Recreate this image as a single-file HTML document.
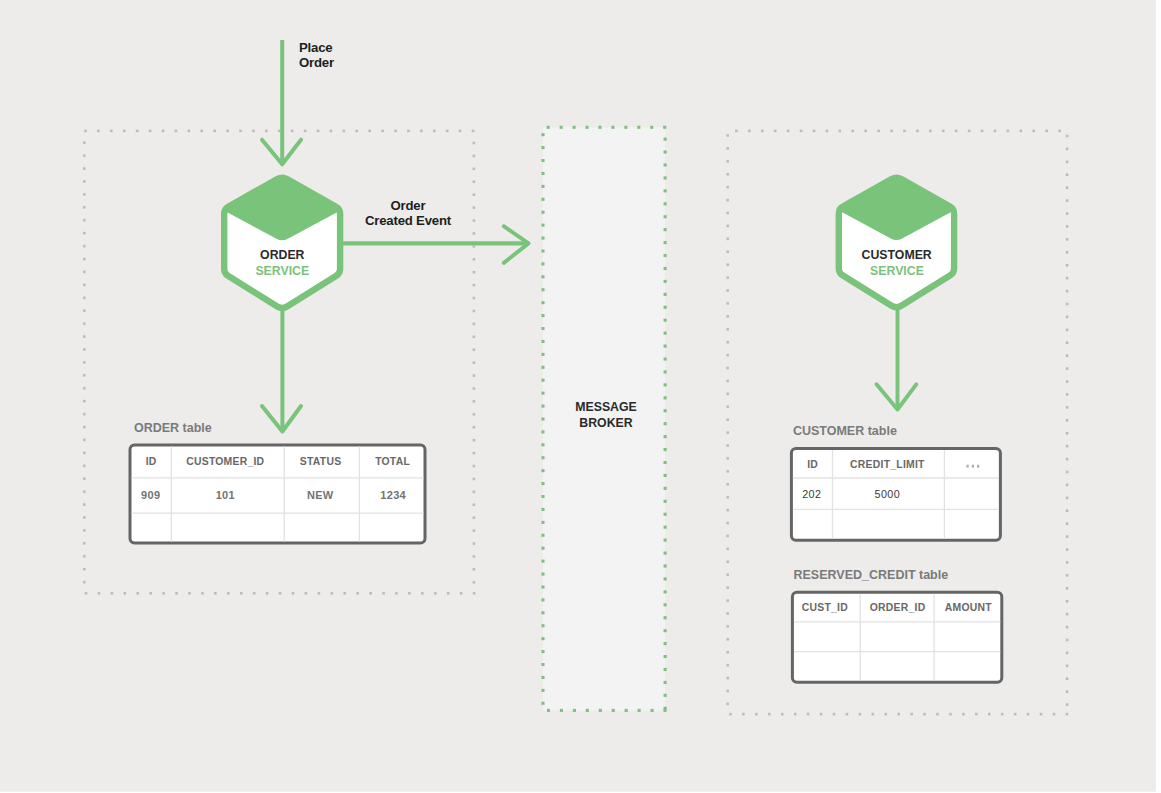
<!DOCTYPE html>
<html><head><meta charset="utf-8"><title>Order Service / Customer Service</title>
<style>
*{margin:0;padding:0}
html,body{width:1161px;height:793px;overflow:hidden;background:#EDECEA}
svg{display:block}
text{font-family:"Liberation Sans",sans-serif}
.lab{font-weight:bold;font-size:13.2px;letter-spacing:-0.2px;fill:#1E1E1E}
.hx{font-weight:bold;font-size:12.3px;fill:#2A2A2A;text-anchor:middle}
.hx.g{fill:#7CC27C}
.th{font-weight:bold;font-size:10.4px;letter-spacing:0.25px;fill:#686868;text-anchor:middle}
.td{font-weight:bold;font-size:11px;letter-spacing:0.3px;fill:#737373;text-anchor:middle}
.td2{font-size:10.8px;letter-spacing:0.4px;fill:#3A3A3A;text-anchor:middle}
.lbl{font-weight:bold;font-size:12.5px;fill:#7A7A7A}
</style></head>
<body><svg width="1161" height="793" viewBox="0 0 1161 793">
<rect width="1161" height="793" fill="#FFFFFF"/>
<rect width="1155.8" height="791.7" fill="#EDECEA"/>
<rect x="543" y="127.3" width="122" height="583" fill="#F3F3F3"/>
<g fill="#BCBCBC"><rect x="84.20" y="129.60" width="2.6" height="2.6"/><rect x="97.12" y="129.60" width="2.6" height="2.6"/><rect x="110.03" y="129.60" width="2.6" height="2.6"/><rect x="122.95" y="129.60" width="2.6" height="2.6"/><rect x="135.87" y="129.60" width="2.6" height="2.6"/><rect x="148.78" y="129.60" width="2.6" height="2.6"/><rect x="161.70" y="129.60" width="2.6" height="2.6"/><rect x="174.62" y="129.60" width="2.6" height="2.6"/><rect x="187.53" y="129.60" width="2.6" height="2.6"/><rect x="200.45" y="129.60" width="2.6" height="2.6"/><rect x="213.37" y="129.60" width="2.6" height="2.6"/><rect x="226.28" y="129.60" width="2.6" height="2.6"/><rect x="239.20" y="129.60" width="2.6" height="2.6"/><rect x="252.12" y="129.60" width="2.6" height="2.6"/><rect x="265.03" y="129.60" width="2.6" height="2.6"/><rect x="277.95" y="129.60" width="2.6" height="2.6"/><rect x="290.87" y="129.60" width="2.6" height="2.6"/><rect x="303.78" y="129.60" width="2.6" height="2.6"/><rect x="316.70" y="129.60" width="2.6" height="2.6"/><rect x="329.62" y="129.60" width="2.6" height="2.6"/><rect x="342.53" y="129.60" width="2.6" height="2.6"/><rect x="355.45" y="129.60" width="2.6" height="2.6"/><rect x="368.37" y="129.60" width="2.6" height="2.6"/><rect x="381.28" y="129.60" width="2.6" height="2.6"/><rect x="394.20" y="129.60" width="2.6" height="2.6"/><rect x="407.12" y="129.60" width="2.6" height="2.6"/><rect x="420.03" y="129.60" width="2.6" height="2.6"/><rect x="432.95" y="129.60" width="2.6" height="2.6"/><rect x="445.87" y="129.60" width="2.6" height="2.6"/><rect x="458.78" y="129.60" width="2.6" height="2.6"/><rect x="471.70" y="129.60" width="2.6" height="2.6"/></g>
<g fill="#BCBCBC"><rect x="83.00" y="141.40" width="2.6" height="2.6"/><rect x="83.00" y="154.32" width="2.6" height="2.6"/><rect x="83.00" y="167.25" width="2.6" height="2.6"/><rect x="83.00" y="180.17" width="2.6" height="2.6"/><rect x="83.00" y="193.09" width="2.6" height="2.6"/><rect x="83.00" y="206.02" width="2.6" height="2.6"/><rect x="83.00" y="218.94" width="2.6" height="2.6"/><rect x="83.00" y="231.86" width="2.6" height="2.6"/><rect x="83.00" y="244.79" width="2.6" height="2.6"/><rect x="83.00" y="257.71" width="2.6" height="2.6"/><rect x="83.00" y="270.64" width="2.6" height="2.6"/><rect x="83.00" y="283.56" width="2.6" height="2.6"/><rect x="83.00" y="296.48" width="2.6" height="2.6"/><rect x="83.00" y="309.41" width="2.6" height="2.6"/><rect x="83.00" y="322.33" width="2.6" height="2.6"/><rect x="83.00" y="335.25" width="2.6" height="2.6"/><rect x="83.00" y="348.18" width="2.6" height="2.6"/><rect x="83.00" y="361.10" width="2.6" height="2.6"/><rect x="83.00" y="374.02" width="2.6" height="2.6"/><rect x="83.00" y="386.95" width="2.6" height="2.6"/><rect x="83.00" y="399.87" width="2.6" height="2.6"/><rect x="83.00" y="412.79" width="2.6" height="2.6"/><rect x="83.00" y="425.72" width="2.6" height="2.6"/><rect x="83.00" y="438.64" width="2.6" height="2.6"/><rect x="83.00" y="451.56" width="2.6" height="2.6"/><rect x="83.00" y="464.49" width="2.6" height="2.6"/><rect x="83.00" y="477.41" width="2.6" height="2.6"/><rect x="83.00" y="490.34" width="2.6" height="2.6"/><rect x="83.00" y="503.26" width="2.6" height="2.6"/><rect x="83.00" y="516.18" width="2.6" height="2.6"/><rect x="83.00" y="529.11" width="2.6" height="2.6"/><rect x="83.00" y="542.03" width="2.6" height="2.6"/><rect x="83.00" y="554.95" width="2.6" height="2.6"/><rect x="83.00" y="567.88" width="2.6" height="2.6"/><rect x="83.00" y="580.80" width="2.6" height="2.6"/></g>
<g fill="#BCBCBC"><rect x="84.70" y="592.00" width="2.6" height="2.6"/><rect x="97.64" y="592.00" width="2.6" height="2.6"/><rect x="110.57" y="592.00" width="2.6" height="2.6"/><rect x="123.51" y="592.00" width="2.6" height="2.6"/><rect x="136.45" y="592.00" width="2.6" height="2.6"/><rect x="149.38" y="592.00" width="2.6" height="2.6"/><rect x="162.32" y="592.00" width="2.6" height="2.6"/><rect x="175.26" y="592.00" width="2.6" height="2.6"/><rect x="188.19" y="592.00" width="2.6" height="2.6"/><rect x="201.13" y="592.00" width="2.6" height="2.6"/><rect x="214.07" y="592.00" width="2.6" height="2.6"/><rect x="227.00" y="592.00" width="2.6" height="2.6"/><rect x="239.94" y="592.00" width="2.6" height="2.6"/><rect x="252.88" y="592.00" width="2.6" height="2.6"/><rect x="265.81" y="592.00" width="2.6" height="2.6"/><rect x="278.75" y="592.00" width="2.6" height="2.6"/><rect x="291.69" y="592.00" width="2.6" height="2.6"/><rect x="304.62" y="592.00" width="2.6" height="2.6"/><rect x="317.56" y="592.00" width="2.6" height="2.6"/><rect x="330.50" y="592.00" width="2.6" height="2.6"/><rect x="343.43" y="592.00" width="2.6" height="2.6"/><rect x="356.37" y="592.00" width="2.6" height="2.6"/><rect x="369.31" y="592.00" width="2.6" height="2.6"/><rect x="382.24" y="592.00" width="2.6" height="2.6"/><rect x="395.18" y="592.00" width="2.6" height="2.6"/><rect x="408.12" y="592.00" width="2.6" height="2.6"/><rect x="421.05" y="592.00" width="2.6" height="2.6"/><rect x="433.99" y="592.00" width="2.6" height="2.6"/><rect x="446.93" y="592.00" width="2.6" height="2.6"/><rect x="459.86" y="592.00" width="2.6" height="2.6"/><rect x="472.80" y="592.00" width="2.6" height="2.6"/></g>
<g fill="#BCBCBC"><rect x="472.60" y="141.70" width="2.6" height="2.6"/><rect x="472.60" y="154.62" width="2.6" height="2.6"/><rect x="472.60" y="167.54" width="2.6" height="2.6"/><rect x="472.60" y="180.46" width="2.6" height="2.6"/><rect x="472.60" y="193.38" width="2.6" height="2.6"/><rect x="472.60" y="206.30" width="2.6" height="2.6"/><rect x="472.60" y="219.22" width="2.6" height="2.6"/><rect x="472.60" y="232.14" width="2.6" height="2.6"/><rect x="472.60" y="245.06" width="2.6" height="2.6"/><rect x="472.60" y="257.99" width="2.6" height="2.6"/><rect x="472.60" y="270.91" width="2.6" height="2.6"/><rect x="472.60" y="283.83" width="2.6" height="2.6"/><rect x="472.60" y="296.75" width="2.6" height="2.6"/><rect x="472.60" y="309.67" width="2.6" height="2.6"/><rect x="472.60" y="322.59" width="2.6" height="2.6"/><rect x="472.60" y="335.51" width="2.6" height="2.6"/><rect x="472.60" y="348.43" width="2.6" height="2.6"/><rect x="472.60" y="361.35" width="2.6" height="2.6"/><rect x="472.60" y="374.27" width="2.6" height="2.6"/><rect x="472.60" y="387.19" width="2.6" height="2.6"/><rect x="472.60" y="400.11" width="2.6" height="2.6"/><rect x="472.60" y="413.03" width="2.6" height="2.6"/><rect x="472.60" y="425.95" width="2.6" height="2.6"/><rect x="472.60" y="438.87" width="2.6" height="2.6"/><rect x="472.60" y="451.79" width="2.6" height="2.6"/><rect x="472.60" y="464.71" width="2.6" height="2.6"/><rect x="472.60" y="477.64" width="2.6" height="2.6"/><rect x="472.60" y="490.56" width="2.6" height="2.6"/><rect x="472.60" y="503.48" width="2.6" height="2.6"/><rect x="472.60" y="516.40" width="2.6" height="2.6"/><rect x="472.60" y="529.32" width="2.6" height="2.6"/><rect x="472.60" y="542.24" width="2.6" height="2.6"/><rect x="472.60" y="555.16" width="2.6" height="2.6"/><rect x="472.60" y="568.08" width="2.6" height="2.6"/><rect x="472.60" y="581.00" width="2.6" height="2.6"/></g>
<g fill="#BCBCBC"><rect x="735.10" y="129.60" width="2.6" height="2.6"/><rect x="748.03" y="129.60" width="2.6" height="2.6"/><rect x="760.96" y="129.60" width="2.6" height="2.6"/><rect x="773.88" y="129.60" width="2.6" height="2.6"/><rect x="786.81" y="129.60" width="2.6" height="2.6"/><rect x="799.74" y="129.60" width="2.6" height="2.6"/><rect x="812.67" y="129.60" width="2.6" height="2.6"/><rect x="825.60" y="129.60" width="2.6" height="2.6"/><rect x="838.52" y="129.60" width="2.6" height="2.6"/><rect x="851.45" y="129.60" width="2.6" height="2.6"/><rect x="864.38" y="129.60" width="2.6" height="2.6"/><rect x="877.31" y="129.60" width="2.6" height="2.6"/><rect x="890.24" y="129.60" width="2.6" height="2.6"/><rect x="903.16" y="129.60" width="2.6" height="2.6"/><rect x="916.09" y="129.60" width="2.6" height="2.6"/><rect x="929.02" y="129.60" width="2.6" height="2.6"/><rect x="941.95" y="129.60" width="2.6" height="2.6"/><rect x="954.88" y="129.60" width="2.6" height="2.6"/><rect x="967.80" y="129.60" width="2.6" height="2.6"/><rect x="980.73" y="129.60" width="2.6" height="2.6"/><rect x="993.66" y="129.60" width="2.6" height="2.6"/><rect x="1006.59" y="129.60" width="2.6" height="2.6"/><rect x="1019.52" y="129.60" width="2.6" height="2.6"/><rect x="1032.44" y="129.60" width="2.6" height="2.6"/><rect x="1045.37" y="129.60" width="2.6" height="2.6"/><rect x="1058.30" y="129.60" width="2.6" height="2.6"/></g>
<g fill="#BCBCBC"><rect x="726.40" y="134.20" width="2.6" height="2.6"/><rect x="726.40" y="147.12" width="2.6" height="2.6"/><rect x="726.40" y="160.04" width="2.6" height="2.6"/><rect x="726.40" y="172.95" width="2.6" height="2.6"/><rect x="726.40" y="185.87" width="2.6" height="2.6"/><rect x="726.40" y="198.79" width="2.6" height="2.6"/><rect x="726.40" y="211.71" width="2.6" height="2.6"/><rect x="726.40" y="224.63" width="2.6" height="2.6"/><rect x="726.40" y="237.55" width="2.6" height="2.6"/><rect x="726.40" y="250.46" width="2.6" height="2.6"/><rect x="726.40" y="263.38" width="2.6" height="2.6"/><rect x="726.40" y="276.30" width="2.6" height="2.6"/><rect x="726.40" y="289.22" width="2.6" height="2.6"/><rect x="726.40" y="302.14" width="2.6" height="2.6"/><rect x="726.40" y="315.05" width="2.6" height="2.6"/><rect x="726.40" y="327.97" width="2.6" height="2.6"/><rect x="726.40" y="340.89" width="2.6" height="2.6"/><rect x="726.40" y="353.81" width="2.6" height="2.6"/><rect x="726.40" y="366.73" width="2.6" height="2.6"/><rect x="726.40" y="379.65" width="2.6" height="2.6"/><rect x="726.40" y="392.56" width="2.6" height="2.6"/><rect x="726.40" y="405.48" width="2.6" height="2.6"/><rect x="726.40" y="418.40" width="2.6" height="2.6"/><rect x="726.40" y="431.32" width="2.6" height="2.6"/><rect x="726.40" y="444.24" width="2.6" height="2.6"/><rect x="726.40" y="457.15" width="2.6" height="2.6"/><rect x="726.40" y="470.07" width="2.6" height="2.6"/><rect x="726.40" y="482.99" width="2.6" height="2.6"/><rect x="726.40" y="495.91" width="2.6" height="2.6"/><rect x="726.40" y="508.83" width="2.6" height="2.6"/><rect x="726.40" y="521.75" width="2.6" height="2.6"/><rect x="726.40" y="534.66" width="2.6" height="2.6"/><rect x="726.40" y="547.58" width="2.6" height="2.6"/><rect x="726.40" y="560.50" width="2.6" height="2.6"/><rect x="726.40" y="573.42" width="2.6" height="2.6"/><rect x="726.40" y="586.34" width="2.6" height="2.6"/><rect x="726.40" y="599.25" width="2.6" height="2.6"/><rect x="726.40" y="612.17" width="2.6" height="2.6"/><rect x="726.40" y="625.09" width="2.6" height="2.6"/><rect x="726.40" y="638.01" width="2.6" height="2.6"/><rect x="726.40" y="650.93" width="2.6" height="2.6"/><rect x="726.40" y="663.85" width="2.6" height="2.6"/><rect x="726.40" y="676.76" width="2.6" height="2.6"/><rect x="726.40" y="689.68" width="2.6" height="2.6"/><rect x="726.40" y="702.60" width="2.6" height="2.6"/></g>
<g fill="#BCBCBC"><rect x="729.20" y="712.80" width="2.6" height="2.6"/><rect x="742.14" y="712.80" width="2.6" height="2.6"/><rect x="755.08" y="712.80" width="2.6" height="2.6"/><rect x="768.02" y="712.80" width="2.6" height="2.6"/><rect x="780.95" y="712.80" width="2.6" height="2.6"/><rect x="793.89" y="712.80" width="2.6" height="2.6"/><rect x="806.83" y="712.80" width="2.6" height="2.6"/><rect x="819.77" y="712.80" width="2.6" height="2.6"/><rect x="832.71" y="712.80" width="2.6" height="2.6"/><rect x="845.65" y="712.80" width="2.6" height="2.6"/><rect x="858.58" y="712.80" width="2.6" height="2.6"/><rect x="871.52" y="712.80" width="2.6" height="2.6"/><rect x="884.46" y="712.80" width="2.6" height="2.6"/><rect x="897.40" y="712.80" width="2.6" height="2.6"/><rect x="910.34" y="712.80" width="2.6" height="2.6"/><rect x="923.28" y="712.80" width="2.6" height="2.6"/><rect x="936.22" y="712.80" width="2.6" height="2.6"/><rect x="949.15" y="712.80" width="2.6" height="2.6"/><rect x="962.09" y="712.80" width="2.6" height="2.6"/><rect x="975.03" y="712.80" width="2.6" height="2.6"/><rect x="987.97" y="712.80" width="2.6" height="2.6"/><rect x="1000.91" y="712.80" width="2.6" height="2.6"/><rect x="1013.85" y="712.80" width="2.6" height="2.6"/><rect x="1026.78" y="712.80" width="2.6" height="2.6"/><rect x="1039.72" y="712.80" width="2.6" height="2.6"/><rect x="1052.66" y="712.80" width="2.6" height="2.6"/><rect x="1065.60" y="712.80" width="2.6" height="2.6"/></g>
<g fill="#BCBCBC"><rect x="1065.80" y="134.70" width="2.6" height="2.6"/><rect x="1065.80" y="147.62" width="2.6" height="2.6"/><rect x="1065.80" y="160.55" width="2.6" height="2.6"/><rect x="1065.80" y="173.47" width="2.6" height="2.6"/><rect x="1065.80" y="186.39" width="2.6" height="2.6"/><rect x="1065.80" y="199.31" width="2.6" height="2.6"/><rect x="1065.80" y="212.24" width="2.6" height="2.6"/><rect x="1065.80" y="225.16" width="2.6" height="2.6"/><rect x="1065.80" y="238.08" width="2.6" height="2.6"/><rect x="1065.80" y="251.00" width="2.6" height="2.6"/><rect x="1065.80" y="263.93" width="2.6" height="2.6"/><rect x="1065.80" y="276.85" width="2.6" height="2.6"/><rect x="1065.80" y="289.77" width="2.6" height="2.6"/><rect x="1065.80" y="302.70" width="2.6" height="2.6"/><rect x="1065.80" y="315.62" width="2.6" height="2.6"/><rect x="1065.80" y="328.54" width="2.6" height="2.6"/><rect x="1065.80" y="341.46" width="2.6" height="2.6"/><rect x="1065.80" y="354.39" width="2.6" height="2.6"/><rect x="1065.80" y="367.31" width="2.6" height="2.6"/><rect x="1065.80" y="380.23" width="2.6" height="2.6"/><rect x="1065.80" y="393.15" width="2.6" height="2.6"/><rect x="1065.80" y="406.08" width="2.6" height="2.6"/><rect x="1065.80" y="419.00" width="2.6" height="2.6"/><rect x="1065.80" y="431.92" width="2.6" height="2.6"/><rect x="1065.80" y="444.85" width="2.6" height="2.6"/><rect x="1065.80" y="457.77" width="2.6" height="2.6"/><rect x="1065.80" y="470.69" width="2.6" height="2.6"/><rect x="1065.80" y="483.61" width="2.6" height="2.6"/><rect x="1065.80" y="496.54" width="2.6" height="2.6"/><rect x="1065.80" y="509.46" width="2.6" height="2.6"/><rect x="1065.80" y="522.38" width="2.6" height="2.6"/><rect x="1065.80" y="535.30" width="2.6" height="2.6"/><rect x="1065.80" y="548.23" width="2.6" height="2.6"/><rect x="1065.80" y="561.15" width="2.6" height="2.6"/><rect x="1065.80" y="574.07" width="2.6" height="2.6"/><rect x="1065.80" y="587.00" width="2.6" height="2.6"/><rect x="1065.80" y="599.92" width="2.6" height="2.6"/><rect x="1065.80" y="612.84" width="2.6" height="2.6"/><rect x="1065.80" y="625.76" width="2.6" height="2.6"/><rect x="1065.80" y="638.69" width="2.6" height="2.6"/><rect x="1065.80" y="651.61" width="2.6" height="2.6"/><rect x="1065.80" y="664.53" width="2.6" height="2.6"/><rect x="1065.80" y="677.45" width="2.6" height="2.6"/><rect x="1065.80" y="690.38" width="2.6" height="2.6"/><rect x="1065.80" y="703.30" width="2.6" height="2.6"/></g>
<g fill="#80BF80"><rect x="546.65" y="125.75" width="3.1" height="3.1"/><rect x="559.59" y="125.75" width="3.1" height="3.1"/><rect x="572.54" y="125.75" width="3.1" height="3.1"/><rect x="585.48" y="125.75" width="3.1" height="3.1"/><rect x="598.43" y="125.75" width="3.1" height="3.1"/><rect x="611.37" y="125.75" width="3.1" height="3.1"/><rect x="624.32" y="125.75" width="3.1" height="3.1"/><rect x="637.26" y="125.75" width="3.1" height="3.1"/><rect x="650.21" y="125.75" width="3.1" height="3.1"/><rect x="663.15" y="125.75" width="3.1" height="3.1"/></g>
<g fill="#80BF80"><rect x="541.45" y="133.15" width="3.1" height="3.1"/><rect x="541.45" y="146.07" width="3.1" height="3.1"/><rect x="541.45" y="159.00" width="3.1" height="3.1"/><rect x="541.45" y="171.92" width="3.1" height="3.1"/><rect x="541.45" y="184.84" width="3.1" height="3.1"/><rect x="541.45" y="197.76" width="3.1" height="3.1"/><rect x="541.45" y="210.69" width="3.1" height="3.1"/><rect x="541.45" y="223.61" width="3.1" height="3.1"/><rect x="541.45" y="236.53" width="3.1" height="3.1"/><rect x="541.45" y="249.45" width="3.1" height="3.1"/><rect x="541.45" y="262.38" width="3.1" height="3.1"/><rect x="541.45" y="275.30" width="3.1" height="3.1"/><rect x="541.45" y="288.22" width="3.1" height="3.1"/><rect x="541.45" y="301.15" width="3.1" height="3.1"/><rect x="541.45" y="314.07" width="3.1" height="3.1"/><rect x="541.45" y="326.99" width="3.1" height="3.1"/><rect x="541.45" y="339.91" width="3.1" height="3.1"/><rect x="541.45" y="352.84" width="3.1" height="3.1"/><rect x="541.45" y="365.76" width="3.1" height="3.1"/><rect x="541.45" y="378.68" width="3.1" height="3.1"/><rect x="541.45" y="391.60" width="3.1" height="3.1"/><rect x="541.45" y="404.53" width="3.1" height="3.1"/><rect x="541.45" y="417.45" width="3.1" height="3.1"/><rect x="541.45" y="430.37" width="3.1" height="3.1"/><rect x="541.45" y="443.30" width="3.1" height="3.1"/><rect x="541.45" y="456.22" width="3.1" height="3.1"/><rect x="541.45" y="469.14" width="3.1" height="3.1"/><rect x="541.45" y="482.06" width="3.1" height="3.1"/><rect x="541.45" y="494.99" width="3.1" height="3.1"/><rect x="541.45" y="507.91" width="3.1" height="3.1"/><rect x="541.45" y="520.83" width="3.1" height="3.1"/><rect x="541.45" y="533.75" width="3.1" height="3.1"/><rect x="541.45" y="546.68" width="3.1" height="3.1"/><rect x="541.45" y="559.60" width="3.1" height="3.1"/><rect x="541.45" y="572.52" width="3.1" height="3.1"/><rect x="541.45" y="585.45" width="3.1" height="3.1"/><rect x="541.45" y="598.37" width="3.1" height="3.1"/><rect x="541.45" y="611.29" width="3.1" height="3.1"/><rect x="541.45" y="624.21" width="3.1" height="3.1"/><rect x="541.45" y="637.14" width="3.1" height="3.1"/><rect x="541.45" y="650.06" width="3.1" height="3.1"/><rect x="541.45" y="662.98" width="3.1" height="3.1"/><rect x="541.45" y="675.90" width="3.1" height="3.1"/><rect x="541.45" y="688.83" width="3.1" height="3.1"/><rect x="541.45" y="701.75" width="3.1" height="3.1"/></g>
<g fill="#80BF80"><rect x="663.55" y="137.55" width="3.1" height="3.1"/><rect x="663.55" y="150.49" width="3.1" height="3.1"/><rect x="663.55" y="163.42" width="3.1" height="3.1"/><rect x="663.55" y="176.36" width="3.1" height="3.1"/><rect x="663.55" y="189.30" width="3.1" height="3.1"/><rect x="663.55" y="202.23" width="3.1" height="3.1"/><rect x="663.55" y="215.17" width="3.1" height="3.1"/><rect x="663.55" y="228.10" width="3.1" height="3.1"/><rect x="663.55" y="241.04" width="3.1" height="3.1"/><rect x="663.55" y="253.98" width="3.1" height="3.1"/><rect x="663.55" y="266.91" width="3.1" height="3.1"/><rect x="663.55" y="279.85" width="3.1" height="3.1"/><rect x="663.55" y="292.79" width="3.1" height="3.1"/><rect x="663.55" y="305.72" width="3.1" height="3.1"/><rect x="663.55" y="318.66" width="3.1" height="3.1"/><rect x="663.55" y="331.60" width="3.1" height="3.1"/><rect x="663.55" y="344.53" width="3.1" height="3.1"/><rect x="663.55" y="357.47" width="3.1" height="3.1"/><rect x="663.55" y="370.40" width="3.1" height="3.1"/><rect x="663.55" y="383.34" width="3.1" height="3.1"/><rect x="663.55" y="396.28" width="3.1" height="3.1"/><rect x="663.55" y="409.21" width="3.1" height="3.1"/><rect x="663.55" y="422.15" width="3.1" height="3.1"/><rect x="663.55" y="435.09" width="3.1" height="3.1"/><rect x="663.55" y="448.02" width="3.1" height="3.1"/><rect x="663.55" y="460.96" width="3.1" height="3.1"/><rect x="663.55" y="473.90" width="3.1" height="3.1"/><rect x="663.55" y="486.83" width="3.1" height="3.1"/><rect x="663.55" y="499.77" width="3.1" height="3.1"/><rect x="663.55" y="512.70" width="3.1" height="3.1"/><rect x="663.55" y="525.64" width="3.1" height="3.1"/><rect x="663.55" y="538.58" width="3.1" height="3.1"/><rect x="663.55" y="551.51" width="3.1" height="3.1"/><rect x="663.55" y="564.45" width="3.1" height="3.1"/><rect x="663.55" y="577.39" width="3.1" height="3.1"/><rect x="663.55" y="590.32" width="3.1" height="3.1"/><rect x="663.55" y="603.26" width="3.1" height="3.1"/><rect x="663.55" y="616.20" width="3.1" height="3.1"/><rect x="663.55" y="629.13" width="3.1" height="3.1"/><rect x="663.55" y="642.07" width="3.1" height="3.1"/><rect x="663.55" y="655.00" width="3.1" height="3.1"/><rect x="663.55" y="667.94" width="3.1" height="3.1"/><rect x="663.55" y="680.88" width="3.1" height="3.1"/><rect x="663.55" y="693.81" width="3.1" height="3.1"/><rect x="663.55" y="706.75" width="3.1" height="3.1"/></g>
<g fill="#80BF80"><rect x="546.95" y="708.85" width="3.1" height="3.1"/><rect x="559.89" y="708.85" width="3.1" height="3.1"/><rect x="572.84" y="708.85" width="3.1" height="3.1"/><rect x="585.78" y="708.85" width="3.1" height="3.1"/><rect x="598.73" y="708.85" width="3.1" height="3.1"/><rect x="611.67" y="708.85" width="3.1" height="3.1"/><rect x="624.62" y="708.85" width="3.1" height="3.1"/><rect x="637.56" y="708.85" width="3.1" height="3.1"/><rect x="650.51" y="708.85" width="3.1" height="3.1"/><rect x="663.45" y="708.85" width="3.1" height="3.1"/></g>
<g stroke="#7AC37A" stroke-width="4" fill="none" stroke-linecap="round" stroke-linejoin="round"><line x1="282.2" y1="40" x2="282.2" y2="164.3" stroke-linecap="butt"/><polyline points="262.0,139.7 282.2,164.3 301.0,139.7"/></g>
<g stroke="#7AC37A" stroke-width="4" fill="none" stroke-linecap="round" stroke-linejoin="round"><line x1="282.4" y1="306" x2="282.4" y2="431.5" stroke-linecap="butt"/><polyline points="262.0,406.0 282.4,431.5 301.0,406.0"/></g>
<g stroke="#7AC37A" stroke-width="3.9" fill="none" stroke-linecap="round" stroke-linejoin="round"><line x1="897.5" y1="306" x2="897.5" y2="409.5" stroke-linecap="butt"/><polyline points="876.5,384.3 897.5,409.5 916.3,384.3"/></g>
<g stroke="#7AC37A" stroke-width="3.9" fill="none" stroke-linecap="round" stroke-linejoin="round"><line x1="340" y1="243.4" x2="528.5" y2="243.4" stroke-width="4.4" stroke-linecap="butt"/><polyline points="503.8,226.2 528.5,243.4 503.8,262.9"/></g>
<path d="M287.07,179.00 L336.04,206.70 A8.0,8.0 0 0 1 340.10,213.66 L340.10,268.95 A8.0,8.0 0 0 1 336.34,275.73 L287.45,306.28 A10.0,10.0 0 0 1 276.85,306.28 L227.96,275.73 A8.0,8.0 0 0 1 224.20,268.95 L224.20,213.66 A8.0,8.0 0 0 1 228.26,206.70 L277.23,179.00 A10.0,10.0 0 0 1 287.07,179.00 Z" fill="#fff" stroke="#7AC37A" stroke-width="6.4" stroke-linejoin="round"/><path d="M287.25,179.24 L338.58,209.69 A1,1 0 0 1 338.54,211.44 L287.84,238.72 A12,12 0 0 1 276.46,238.72 L225.76,211.44 A1,1 0 0 1 225.72,209.69 L277.05,179.24 A10.0,10.0 0 0 1 287.25,179.24 Z" fill="#7AC37A"/>
<path d="M901.37,179.00 L950.04,206.53 A8.0,8.0 0 0 1 954.10,213.49 L954.10,268.43 A8.0,8.0 0 0 1 950.34,275.22 L901.75,305.58 A10.0,10.0 0 0 1 891.15,305.58 L842.56,275.22 A8.0,8.0 0 0 1 838.80,268.43 L838.80,213.49 A8.0,8.0 0 0 1 842.86,206.53 L891.53,179.00 A10.0,10.0 0 0 1 901.37,179.00 Z" fill="#fff" stroke="#7AC37A" stroke-width="6.4" stroke-linejoin="round"/><path d="M901.55,179.24 L952.58,209.52 A1,1 0 0 1 952.54,211.27 L902.14,238.39 A12,12 0 0 1 890.76,238.39 L840.36,211.27 A1,1 0 0 1 840.32,209.52 L891.35,179.24 A10.0,10.0 0 0 1 901.55,179.24 Z" fill="#7AC37A"/>
<rect x="130.0" y="445.0" width="295.0" height="98.0" rx="4.5" fill="#fff" stroke="#656565" stroke-width="3"/><g stroke="#E2E2E2" stroke-width="1.3"><line x1="171.3" y1="446.5" x2="171.3" y2="541.5"/><line x1="284.2" y1="446.5" x2="284.2" y2="541.5"/><line x1="359.4" y1="446.5" x2="359.4" y2="541.5"/><line x1="131.5" y1="477.8" x2="423.5" y2="477.8"/><line x1="131.5" y1="513.1" x2="423.5" y2="513.1"/></g><text x="151.2" y="465.2" class="th">ID</text><text x="225.3" y="465.2" class="th">CUSTOMER_ID</text><text x="320.6" y="465.2" class="th">STATUS</text><text x="392.6" y="465.2" class="th">TOTAL</text><text x="150.7" y="498.8" class="td">909</text><text x="225.3" y="498.8" class="td">101</text><text x="320.2" y="498.8" class="td">NEW</text><text x="393.2" y="498.8" class="td">1234</text><text x="134" y="432.2" class="lbl">ORDER table</text>
<rect x="791.4" y="448.6" width="209.0" height="91.69999999999993" rx="4.5" fill="#fff" stroke="#656565" stroke-width="3"/><g stroke="#E2E2E2" stroke-width="1.3"><line x1="832.5" y1="450.1" x2="832.5" y2="538.8"/><line x1="944.4" y1="450.1" x2="944.4" y2="538.8"/><line x1="792.9" y1="478" x2="998.9" y2="478"/><line x1="792.9" y1="509.3" x2="998.9" y2="509.3"/></g><text x="812.7" y="468.1" class="th">ID</text><text x="887.4" y="468.1" class="th">CREDIT_LIMIT</text><text x="811.8" y="497.8" class="td2">202</text><text x="887.3" y="497.8" class="td2">5000</text><text x="792.9" y="435.3" class="lbl">CUSTOMER table</text>
<g fill="#ABABAB"><rect x="966.5" y="464.8" width="2.2" height="2.8"/><rect x="971.8" y="464.8" width="2.2" height="2.8"/><rect x="977.0" y="464.8" width="2.2" height="2.8"/></g>
<rect x="792.4" y="592.2" width="209.39999999999998" height="90.09999999999991" rx="4.5" fill="#fff" stroke="#656565" stroke-width="3"/><g stroke="#E2E2E2" stroke-width="1.3"><line x1="860.2" y1="593.7" x2="860.2" y2="680.8"/><line x1="934.1" y1="593.7" x2="934.1" y2="680.8"/><line x1="793.9" y1="621.8" x2="1000.3" y2="621.8"/><line x1="793.9" y1="651.7" x2="1000.3" y2="651.7"/></g><text x="824.8" y="611.1" class="th">CUST_ID</text><text x="897.6" y="611.1" class="th">ORDER_ID</text><text x="968.4" y="611.1" class="th">AMOUNT</text><text x="793.5" y="578.8" class="lbl">RESERVED_CREDIT table</text>
<text x="299" y="51.5" class="lab">Place</text>
<text x="299" y="67" class="lab">Order</text>
<text x="407.9" y="209.5" class="lab" text-anchor="middle">Order</text>
<text x="408" y="224.7" class="lab" text-anchor="middle">Created Event</text>
<text x="282.3" y="259.3" class="hx">ORDER</text>
<text x="282.3" y="274.6" class="hx g">SERVICE</text>
<text x="896.7" y="258.9" class="hx">CUSTOMER</text>
<text x="897" y="274.6" class="hx g">SERVICE</text>
<text x="606" y="411.4" class="hx">MESSAGE</text>
<text x="606" y="427.2" class="hx">BROKER</text>
</svg></body></html>
